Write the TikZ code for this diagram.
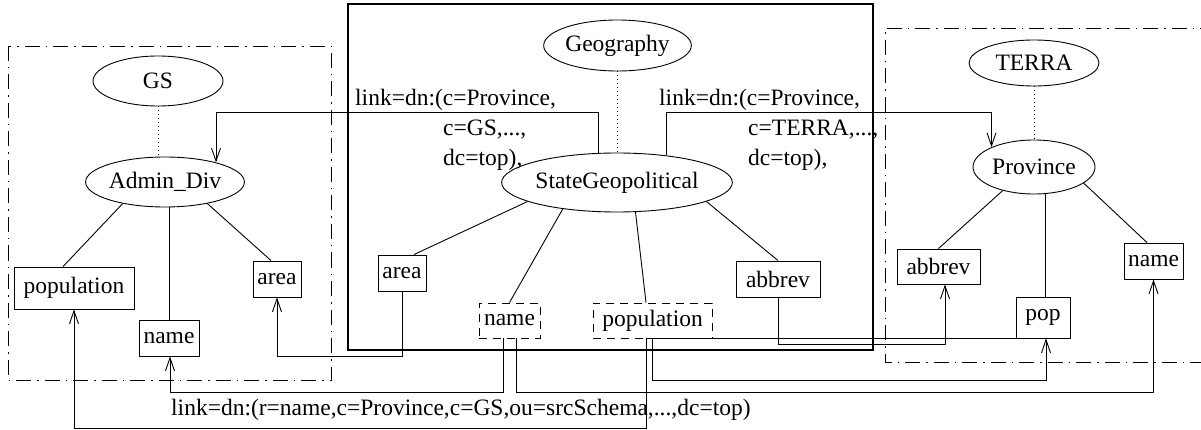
\documentclass[tikz,border=0pt]{standalone}
\usepackage{fontspec}
\setmainfont{Liberation Serif}
\usetikzlibrary{shapes.geometric,arrows.meta,calc}
\begin{document}
\begin{tikzpicture}[x=1pt,y=-1pt,
  every node/.style={font=\fontsize{23.5}{28}\selectfont, inner sep=0pt},
  ell/.style={draw, ellipse, line width=0.9pt},
  attr/.style={draw, rectangle, line width=0.9pt},
  virt/.style={attr, dash pattern=on 8pt off 6pt},
  tree/.style={line width=0.9pt},
  dotline/.style={line width=0.9pt, dash pattern=on 1pt off 3pt},
  arr/.style={line width=0.9pt, -{Straight Barb[length=13pt,width=9pt]}},
  schema/.style={line width=0.9pt, dash pattern=on 15pt off 6pt on 1.5pt off 6pt},
  frame/.style={line width=2pt},
  lbl/.style={anchor=base west}
]
\useasboundingbox (0,0) rectangle (1201,430);

% schema frames
\draw[schema] (8,46) rectangle (331,380);
\draw[frame] (348,4) rectangle (873,350);
\draw[schema] (1215,28) -- (885,28) -- (885,362) -- (1215,362);

% GS schema
\node[ell, minimum width=130pt, minimum height=50pt] (gs) at (158,81) {GS};
\node[ell, minimum width=131pt, minimum height=50pt] (admin) at (165,182) {Admin\_Div};
\node[attr, minimum width=120pt, minimum height=42pt] (popL) at (74,288) {population};
\node[attr, minimum width=60pt, minimum height=36pt] (nameL) at (169,338) {name};
\node[attr, minimum width=48pt, minimum height=36pt] (areaL) at (277,279) {area};

% Geography schema
\node[ell, minimum width=131pt, minimum height=51pt] (geo) at (617.5,45.5) {Geography};
\node[ell, minimum width=216pt, minimum height=59pt] (sgeo) at (617,182.5) {StateGeopolitical};
\node[attr, minimum width=48pt, minimum height=36pt] (areaM) at (402,273) {area};
\node[virt, minimum width=61pt, minimum height=35pt] (nameM) at (509.5,320.5) {name};
\node[virt, minimum width=119pt, minimum height=35pt] (popM) at (652.5,320.5) {population};
\node[attr, minimum width=84pt, minimum height=36pt] (abbrM) at (778,279) {abbrev};

% TERRA schema
\node[ell, minimum width=130pt, minimum height=46pt] (terra) at (1034,63) {TERRA};
\node[ell, minimum width=122pt, minimum height=54pt] (prov) at (1034,167) {Province};
\node[attr, minimum width=83pt, minimum height=35pt] (abbrR) at (938.5,266.5) {abbrev};
\node[attr, minimum width=54pt, minimum height=41pt] (popR) at (1043,317.5) {pop};
\node[attr, minimum width=59pt, minimum height=36pt] (nameR) at (1153.5,261) {name};

% link labels
\node[lbl] (lkL1) at (355,106) {link=dn:(c=Province,};
\node[lbl] (lkL2) at (443,136) {c=GS,...,};
\node[lbl] (lkL3) at (443,166) {dc=top),};
\node[lbl] (lkR1) at (659,106) {link=dn:(c=Province,};
\node[lbl] (lkR2) at (748,136) {c=TERRA,...,};
\node[lbl] (lkR3) at (748,166) {dc=top),};
\node[lbl] (lkB) at (171,415) {link=dn:(r=name,c=Province,c=GS,ou=srcSchema,...,dc=top)};

% routing levels
\coordinate (lvTop) at (0,112);
\coordinate (lvAb) at (0,344);
\coordinate (lvAr) at (0,356);
\coordinate (lvPr) at (0,380);
\coordinate (lvNm) at (0,392);
\coordinate (lvPl) at (0,428);

% schema roots
\draw[dotline] (gs.south) -- (gs.south |- admin.north);
\draw[dotline] (geo.south) -- (geo.south |- sgeo.north);
\draw[dotline] (terra.south) -- (terra.south |- prov.north);

% attribute edges
\draw[tree] (admin.-153) -- ([xshift=-11pt]popL.north);
\draw[tree] (nameL.north |- admin.south) -- (nameL.north);
\draw[tree] (admin.-27) -- ([xshift=-6pt]areaL.north);

\draw[tree] (sgeo.-168) -- ([xshift=12pt]areaM.north);
\draw[tree] (sgeo.-154.7) -- (nameM.north);
\draw[tree] (sgeo.-58.3) -- ([xshift=-6.5pt]popM.north);
\draw[tree] (sgeo.-12.4) -- (abbrM.north);

\draw[tree] (prov.-143) -- (abbrR.north);
\draw[tree] ([xshift=2pt]popR.north |- prov.south) -- ([xshift=2pt]popR.north);
\draw[tree] (prov.-18) -- ([xshift=-6.5pt]nameR.north);

% class links
\draw[arr] (sgeo.122.9) -- (sgeo.122.9 |- lvTop) -| (admin.21.2);
\draw[arr] (sgeo.29.5) -- (sgeo.29.5 |- lvTop) -| (prov.155);

% attribute links
\draw[arr] (areaM.south) -- (areaM.south |- lvAr) -| (areaL.south);
\draw[arr] ([xshift=-6.5pt]nameM.south) -- ([xshift=-6.5pt]nameM.south |- lvNm) -| ([xshift=1pt]nameL.south);
\draw[arr] ([xshift=6.5pt]nameM.south) -- ([xshift=6.5pt]nameM.south |- lvNm) -| (nameR.south);
\draw[arr] ([xshift=-6.5pt]popM.south) -- ([xshift=-6.5pt]popM.south |- lvPl) -| (popL.south);
\draw[arr] (popM.south) -- (popM.south |- lvPr) -| ([xshift=3pt]popR.south);
\draw[tree] ([xshift=-6.5pt]popM.south) -- (popR.south west);
\draw[arr] (abbrM.south) -- (abbrM.south |- lvAb) -| ([xshift=6.5pt]abbrR.south);
\end{tikzpicture}
\end{document}
